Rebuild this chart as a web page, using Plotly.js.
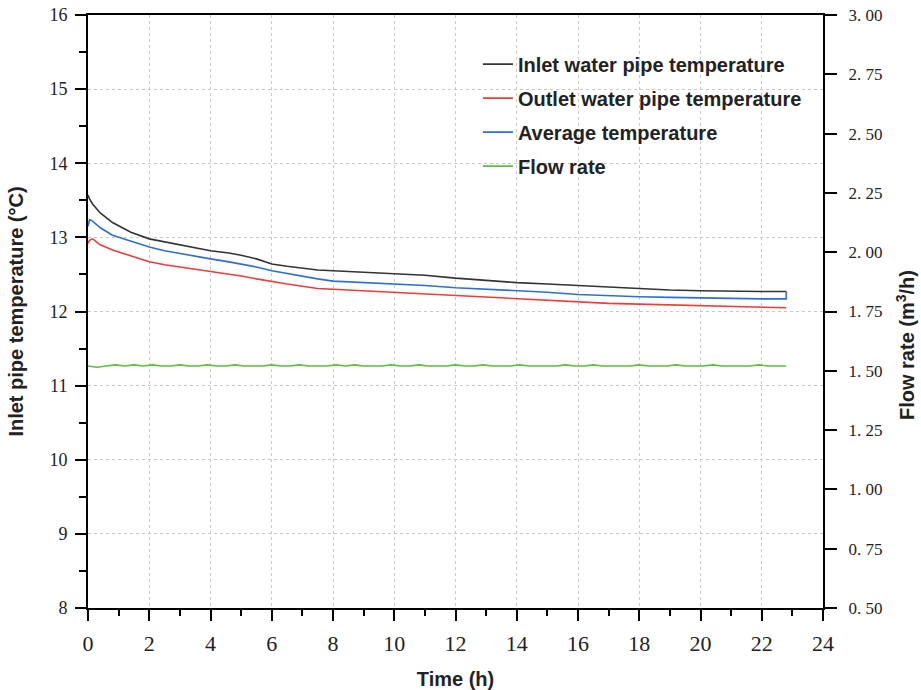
<!DOCTYPE html>
<html>
<head>
<meta charset="utf-8">
<script src="https://cdn.plot.ly/plotly-3.0.1.min.js"></script>
<style>html,body{margin:0;padding:0;background:#fff;}#chart{width:921px;height:690px;}</style>
</head>
<body>
<div id="chart"></div>
<script>
// Time (h) for temperature series
const timeH = [0, 0.05, 0.15, 0.4, 0.8, 1.4, 2, 2.5, 3, 3.5, 4, 4.6, 5, 5.5, 6, 6.5, 7, 7.5, 8, 9, 10, 11, 12, 13, 14, 15, 16, 17, 18, 19, 20, 21, 22, 22.8];
const inletTemp = [13.57, 13.52, 13.45, 13.33, 13.20, 13.07, 12.98, 12.94, 12.90, 12.86, 12.82, 12.79, 12.76, 12.71, 12.64, 12.61, 12.58, 12.56, 12.55, 12.53, 12.52, 12.49, 12.45, 12.42, 12.39, 12.37, 12.35, 12.33, 12.31, 12.29, 12.28, 12.27, 12.27, 12.27];
const outletTemp = [12.92, 12.96, 12.98, 12.90, 12.83, 12.75, 12.67, 12.63, 12.60, 12.57, 12.54, 12.51, 12.48, 12.44, 12.40, 12.37, 12.34, 12.31, 12.30, 12.28, 12.25, 12.23, 12.21, 12.19, 12.17, 12.15, 12.13, 12.11, 12.10, 12.09, 12.08, 12.07, 12.06, 12.05];
const avgTime = [0, 0.05, 0.15, 0.4, 0.8, 1.4, 2, 2.5, 3, 3.5, 4, 4.6, 5, 5.5, 6, 6.5, 7, 7.5, 8, 9, 10, 11, 12, 13, 14, 15, 16, 17, 18, 19, 20, 21, 22, 22.8, 22.8];
const avgTemp = [13.15, 13.24, 13.22, 13.13, 13.03, 12.95, 12.87, 12.82, 12.78, 12.74, 12.71, 12.67, 12.64, 12.60, 12.55, 12.51, 12.47, 12.44, 12.41, 12.39, 12.37, 12.35, 12.32, 12.30, 12.28, 12.26, 12.23, 12.21, 12.20, 12.19, 12.18, 12.17, 12.17, 12.17, 12.27];
// Flow rate (m3/h)
const flowTime = [0, 0.3, 0.6, 0.9, 1.2, 1.5, 1.8, 2.1, 2.4, 2.7, 3.0, 3.3, 3.6, 3.9, 4.2, 4.5, 4.8, 5.1, 5.4, 5.7, 6.0, 6.3, 6.6, 6.9, 7.2, 7.5, 7.8, 8.1, 8.4, 8.7, 9.0, 9.3, 9.6, 9.9, 10.2, 10.5, 10.8, 11.1, 11.4, 11.7, 12.0, 12.3, 12.6, 12.9, 13.2, 13.5, 13.8, 14.1, 14.4, 14.7, 15.0, 15.3, 15.6, 15.9, 16.2, 16.5, 16.8, 17.1, 17.4, 17.7, 18.0, 18.3, 18.6, 18.9, 19.2, 19.5, 19.8, 20.1, 20.4, 20.7, 21.0, 21.3, 21.6, 21.9, 22.2, 22.5, 22.8];
const flowRate = [1.52, 1.515, 1.52, 1.525, 1.52, 1.525, 1.52, 1.525, 1.52, 1.52, 1.525, 1.52, 1.52, 1.525, 1.52, 1.52, 1.525, 1.52, 1.52, 1.52, 1.525, 1.52, 1.52, 1.525, 1.52, 1.52, 1.52, 1.525, 1.52, 1.525, 1.52, 1.52, 1.52, 1.525, 1.52, 1.52, 1.525, 1.52, 1.52, 1.52, 1.525, 1.52, 1.52, 1.525, 1.52, 1.52, 1.52, 1.525, 1.52, 1.52, 1.52, 1.52, 1.525, 1.52, 1.52, 1.525, 1.52, 1.52, 1.52, 1.52, 1.525, 1.52, 1.52, 1.52, 1.525, 1.52, 1.52, 1.52, 1.525, 1.52, 1.52, 1.52, 1.52, 1.525, 1.52, 1.52, 1.52];
const rightTickVals = [0.5, 0.75, 1.0, 1.25, 1.5, 1.75, 2.0, 2.25, 2.5, 2.75, 3.0];
const rightTickText = ["0. 50", "0. 75", "1. 00", "1. 25", "1. 50", "1. 75", "2. 00", "2. 25", "2. 50", "2. 75", "3. 00"];

const legendFont = {family: 'Liberation Sans, Arial, sans-serif', size: 20, color: '#222', weight: 'bold'};
const traces = [
  {x: timeH, y: inletTemp, name: 'Inlet water pipe temperature', mode: 'lines', line: {color: '#333333', width: 1.6}, legendgroup: 'a'},
  {x: timeH, y: outletTemp, name: 'Outlet water pipe temperature', mode: 'lines', line: {color: '#ee3b3b', width: 1.6}, legendgroup: 'b'},
  {x: avgTime, y: avgTemp, name: 'Average temperature', mode: 'lines', line: {color: '#2d6fd0', width: 1.6}, legendgroup: 'c'},
  {x: flowTime, y: flowRate, name: 'Flow rate', mode: 'lines', yaxis: 'y2', line: {color: '#5cbf3a', width: 1.6}, legendgroup: 'd'}
];

const serif = 'Liberation Serif, Times New Roman, serif';
const boldSans = {family: 'Liberation Sans, Arial, sans-serif', size: 20, color: '#222', weight: 'bold'};

const layout = {
  width: 921, height: 690,
  margin: {l: 88, r: 98, t: 15, b: 82},
  paper_bgcolor: '#fff', plot_bgcolor: '#fff',
  showlegend: true,
  legend: {x: 0.5305, y: 0.95, xanchor: 'left', yanchor: 'top', bgcolor: 'rgba(0,0,0,0)', font: legendFont, tracegroupgap: 5, itemwidth: 30},
  xaxis: {
    range: [0, 24], dtick: 2, tick0: 0,
    ticks: 'outside', ticklen: 11, tickwidth: 2, tickcolor: '#000',
    showline: true, linewidth: 2, linecolor: '#000', mirror: true,
    showgrid: true, gridcolor: '#c8c8c8', griddash: 'dot', gridwidth: 1,
    zeroline: false,
    minor: {dtick: 1, ticks: 'outside', ticklen: 6, tickwidth: 2, tickcolor: '#000', showgrid: false},
    tickfont: {family: serif, size: 22, color: '#222'},
    ticklabelstandoff: 4,
    title: {text: 'Time (h)', font: boldSans, standoff: 18}
  },
  yaxis: {
    range: [8, 16], dtick: 1,
    ticks: 'outside', ticklen: 11, tickwidth: 2, tickcolor: '#000',
    showline: true, linewidth: 2, linecolor: '#000', mirror: true,
    showgrid: true, gridcolor: '#c8c8c8', griddash: 'dot', gridwidth: 1,
    zeroline: false,
    minor: {dtick: 0.5, ticks: 'outside', ticklen: 7, tickwidth: 2, tickcolor: '#000', showgrid: false},
    tickfont: {family: serif, size: 18, color: '#222'},
    ticklabelstandoff: 4,
    title: {text: 'Inlet pipe temperature (°C)', font: boldSans, standoff: 20}
  },
  yaxis2: {
    overlaying: 'y', side: 'right', range: [0.5, 3.0],
    tickvals: rightTickVals, ticktext: rightTickText,
    ticks: 'outside', ticklen: 12, tickwidth: 2, tickcolor: '#000',
    showline: true, linewidth: 2, linecolor: '#000',
    showgrid: false, zeroline: false,
    tickfont: {family: serif, size: 17, color: '#222'},
    ticklabelstandoff: 8
  },
  annotations: [{
    text: 'Flow rate (m<sup>3</sup>/h)', textangle: -90, showarrow: false,
    xref: 'paper', yref: 'paper', x: 1.1116, y: 0.4435, xanchor: 'center', yanchor: 'middle',
    font: boldSans
  }]
};

Plotly.newPlot('chart', traces, layout, {displayModeBar: false, staticPlot: true});
</script>
</body>
</html>
